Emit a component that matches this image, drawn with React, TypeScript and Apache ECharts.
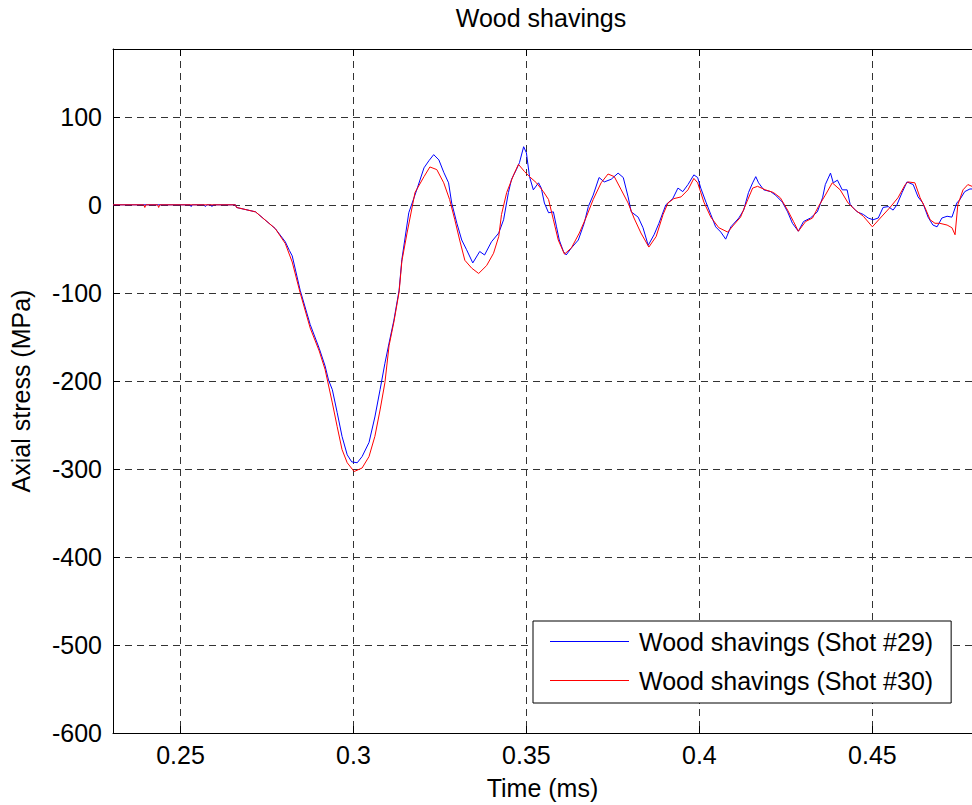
import React, { useEffect, useRef } from "react";
import * as echarts from "echarts";

const chartTitle = "Wood shavings";
const xAxisTitle = "Time (ms)";
const yAxisTitle = "Axial stress (MPa)";
const seriesNames = ["Wood shavings (Shot #29)", "Wood shavings (Shot #30)"];
const seriesColors = ["#0000ff", "#ff0000"];
const xRange = [0.2305, 0.4788];
const yRange = [-600, 177];
const yTickStep = 100;

const shot29Time = [
  0.2305, 0.2528, 0.2531, 0.2534, 0.2568, 0.2572, 0.2576, 0.2588, 0.2591, 0.2595,
  0.2659, 0.2662, 0.2717, 0.2774, 0.2803, 0.2815, 0.2823, 0.2846, 0.2875, 0.2901,
  0.2918, 0.2928, 0.2939, 0.2953, 0.2967, 0.2982, 0.2995, 0.3011, 0.3025, 0.3045,
  0.3062, 0.3077, 0.3091, 0.3103, 0.3117, 0.3132, 0.314, 0.316, 0.3183, 0.3204,
  0.3218, 0.3232, 0.3247, 0.3261, 0.3275, 0.3284, 0.3299, 0.3313, 0.3327, 0.3345,
  0.3365, 0.3379, 0.3399, 0.342, 0.3434, 0.3448, 0.3457, 0.3471, 0.348, 0.3492,
  0.35, 0.3509, 0.352, 0.3535, 0.3543, 0.3552, 0.3564, 0.3578, 0.3587, 0.3595,
  0.3607, 0.3615, 0.363, 0.365, 0.3667, 0.3679, 0.3693, 0.371, 0.3725, 0.3745,
  0.3765, 0.378, 0.3794, 0.3803, 0.3823, 0.3837, 0.3852, 0.3869, 0.3883, 0.3903,
  0.3923, 0.3938, 0.3952, 0.3967, 0.3984, 0.3995, 0.4004, 0.4019, 0.4033, 0.4047,
  0.4062, 0.4076, 0.4091, 0.4114, 0.4128, 0.4142, 0.4154, 0.4163, 0.4171, 0.4186,
  0.4206, 0.422, 0.424, 0.4255, 0.4269, 0.4286, 0.4301, 0.4321, 0.4341, 0.4356,
  0.4364, 0.4379, 0.4387, 0.4399, 0.4413, 0.4427, 0.4436, 0.4456, 0.4474, 0.4488,
  0.4502, 0.4517, 0.4531, 0.4546, 0.456, 0.4571, 0.4586, 0.46, 0.4618, 0.4632,
  0.4646, 0.4661, 0.4675, 0.4687, 0.4701, 0.4716, 0.473, 0.4744, 0.4753, 0.4767,
  0.4782, 0.4795,
];
const shot29Stress = [
  0, 0, -2, 0, 0, -2, 0, 0, -2, 0,
  0, -3, -8, -27, -42, -52, -58, -97, -136, -163,
  -183, -199, -210, -236, -263, -284, -292, -293, -286, -270,
  -241, -210, -180, -157, -131, -97, -62, -9, 17, 42,
  50, 57, 51, 37, 25, 2, -21, -40, -51, -66,
  -53, -57, -42, -32, -17, 14, 29, 40, 48, 66,
  59, 32, 17, 25, 19, 2, -9, -8, -25, -40,
  -53, -57, -49, -40, -21, -2, 11, 31, 26, 29,
  36, 31, 9, -8, -14, -26, -46, -34, -21, 0,
  7, 19, 15, 23, 34, 31, 19, 3, -11, -25,
  -31, -39, -25, -15, -6, 14, 25, 32, 25, 17,
  15, 11, 3, -8, -21, -30, -19, -15, -8, 8,
  23, 36, 25, 28, 17, 17, 0, -8, -11, -15,
  -17, -15, -3, -2, -6, 0, 14, 26, 23, 9,
  2, -14, -23, -25, -15, -13, -14, 2, 6, 15,
  18, 18,
];

const shot30Time = [
  0.2305, 0.2394, 0.2397, 0.24, 0.2434, 0.2437, 0.244, 0.2659, 0.2662, 0.2717,
  0.2774, 0.2803, 0.2823, 0.2846, 0.2875, 0.2901, 0.2918, 0.2939, 0.2953, 0.2967,
  0.2982, 0.3002, 0.3025, 0.3045, 0.3062, 0.3077, 0.3091, 0.3103, 0.3117, 0.3132,
  0.314, 0.3155, 0.3178, 0.3204, 0.3221, 0.3241, 0.3261, 0.3278, 0.3293, 0.3307,
  0.3322, 0.3342, 0.3362, 0.3385, 0.3405, 0.342, 0.3428, 0.3443, 0.3463, 0.3477,
  0.3494, 0.3509, 0.3529, 0.3549, 0.3564, 0.3578, 0.3592, 0.361, 0.363, 0.3653,
  0.3673, 0.3693, 0.3716, 0.3736, 0.3754, 0.3774, 0.3794, 0.3811, 0.3831, 0.3854,
  0.3875, 0.3895, 0.3909, 0.3926, 0.3947, 0.3967, 0.3984, 0.3995, 0.4013, 0.4033,
  0.4056, 0.4082, 0.4099, 0.4119, 0.414, 0.4154, 0.4168, 0.4191, 0.4214, 0.4234,
  0.4255, 0.4272, 0.4286, 0.4307, 0.4327, 0.4344, 0.4364, 0.4384, 0.4407, 0.443,
  0.4451, 0.4474, 0.45, 0.4523, 0.4551, 0.4574, 0.4595, 0.4603, 0.4623, 0.4638,
  0.4652, 0.4667, 0.4681, 0.4695, 0.4716, 0.473, 0.4739, 0.4747, 0.4762, 0.4776,
  0.4788, 0.4795,
];
const shot30Stress = [
  0, 0, -3, 0, 0, -3, 0, 0, -3, -8,
  -27, -44, -65, -100, -140, -166, -187, -225, -252, -278,
  -293, -303, -299, -286, -263, -233, -202, -160, -133, -99,
  -64, -32, 14, 32, 43, 40, 25, 6, -17, -40,
  -63, -72, -78, -69, -55, -36, -11, 14, 34, 46,
  38, 32, 25, 15, 6, -17, -40, -56, -49, -32,
  -14, 6, 25, 35, 32, 17, 2, -15, -32, -48,
  -36, -11, 2, 7, 9, 17, 30, 25, 3, -14,
  -26, -31, -23, -14, 6, 19, 21, 17, 14, 8,
  -6, -19, -30, -19, -15, -2, 11, 25, 17, 2,
  -6, -13, -25, -15, -3, 8, 23, 26, 25, 8,
  -3, -17, -21, -21, -23, -26, -34, 0, 17, 23,
  21, 20,
];

const FONT = "'Liberation Sans', Arial, Helvetica, sans-serif";
const FS = 25;

function pairs(t: number[], v: number[]) {
  return t.map((x, i) => [x, v[i]]);
}

export default function App() {
  const ref = useRef<HTMLDivElement>(null);
  useEffect(() => {
    if (!ref.current) return;
    const chart = echarts.init(ref.current, undefined, { renderer: "svg" });
    const gridLine = { show: true, lineStyle: { color: "#333", type: [7, 5] as any, width: 1 } };
    chart.setOption({
      animation: false,
      backgroundColor: "#fff",
      textStyle: { fontFamily: FONT },
      title: {
        text: chartTitle,
        left: 541,
        top: 5,
        padding: 0,
        textAlign: "center",
        textStyle: { fontFamily: FONT, fontSize: FS, fontWeight: "normal", color: "#000" },
      },
      grid: { left: 110, right: 0, top: 49, bottom: 72, containLabel: false },
      legend: {
        orient: "vertical",
        left: 533,
        top: 621,
        padding: [8, 18, 10, 17],
        itemGap: 14,
        itemWidth: 79,
        itemHeight: 1,
        icon: "rect",
        borderColor: "#000",
        borderWidth: 1,
        borderRadius: 0,
        backgroundColor: "#fff",
        textStyle: { fontFamily: FONT, fontSize: FS, color: "#000", padding: [0, 0, 0, 5] },
        data: seriesNames,
      },
      xAxis: [
        {
          type: "value",
          min: xRange[0],
          max: xRange[1],
          splitNumber: 5,
          name: xAxisTitle,
          nameLocation: "middle",
          nameGap: 42,
          nameTextStyle: { fontFamily: FONT, fontSize: FS, color: "#000" },
          axisLine: { show: true, onZero: false, lineStyle: { color: "#000", width: 1 } },
          axisTick: { show: true, inside: true, length: 7, lineStyle: { color: "#000" } },
          axisLabel: {
            show: true,
            showMinLabel: false,
            showMaxLabel: false,
            margin: 9,
            fontFamily: FONT,
            fontSize: FS,
            color: "#000",
            formatter: (v: number) => String(+v.toFixed(4)),
          },
          splitLine: gridLine,
        },
        {
          type: "value",
          position: "top",
          min: xRange[0],
          max: xRange[1],
          splitNumber: 5,
          axisLine: { show: true, onZero: false, lineStyle: { color: "#000", width: 1 } },
          axisTick: { show: true, inside: true, length: 7, lineStyle: { color: "#000" } },
          axisLabel: { show: false },
          splitLine: { show: false },
        },
      ],
      yAxis: {
        type: "value",
        min: yRange[0],
        max: yRange[1],
        interval: yTickStep,
        name: yAxisTitle,
        nameLocation: "middle",
        nameGap: 80,
        nameTextStyle: { fontFamily: FONT, fontSize: FS, color: "#000" },
        axisLine: { show: true, onZero: false, lineStyle: { color: "#000", width: 1 } },
        axisTick: { show: true, inside: true, length: 7, lineStyle: { color: "#000" } },
        axisLabel: {
          showMaxLabel: false,
          margin: 11,
          fontFamily: FONT,
          fontSize: FS,
          color: "#000",
        },
        splitLine: gridLine,
      },
      series: [
        {
          name: seriesNames[0],
          type: "line",
          data: pairs(shot29Time, shot29Stress),
          symbol: "none",
          showSymbol: false,
          lineStyle: { color: seriesColors[0], width: 1 },
          itemStyle: { color: seriesColors[0] },
          z: 2,
        },
        {
          name: seriesNames[1],
          type: "line",
          data: pairs(shot30Time, shot30Stress),
          symbol: "none",
          showSymbol: false,
          lineStyle: { color: seriesColors[1], width: 1 },
          itemStyle: { color: seriesColors[1] },
          z: 3,
        },
      ],
    });
    return () => chart.dispose();
  }, []);
  return (
    <div
      ref={ref}
      style={{ position: "absolute", left: 0, top: 0, width: 972, height: 805, background: "#fff" }}
    />
  );
}
